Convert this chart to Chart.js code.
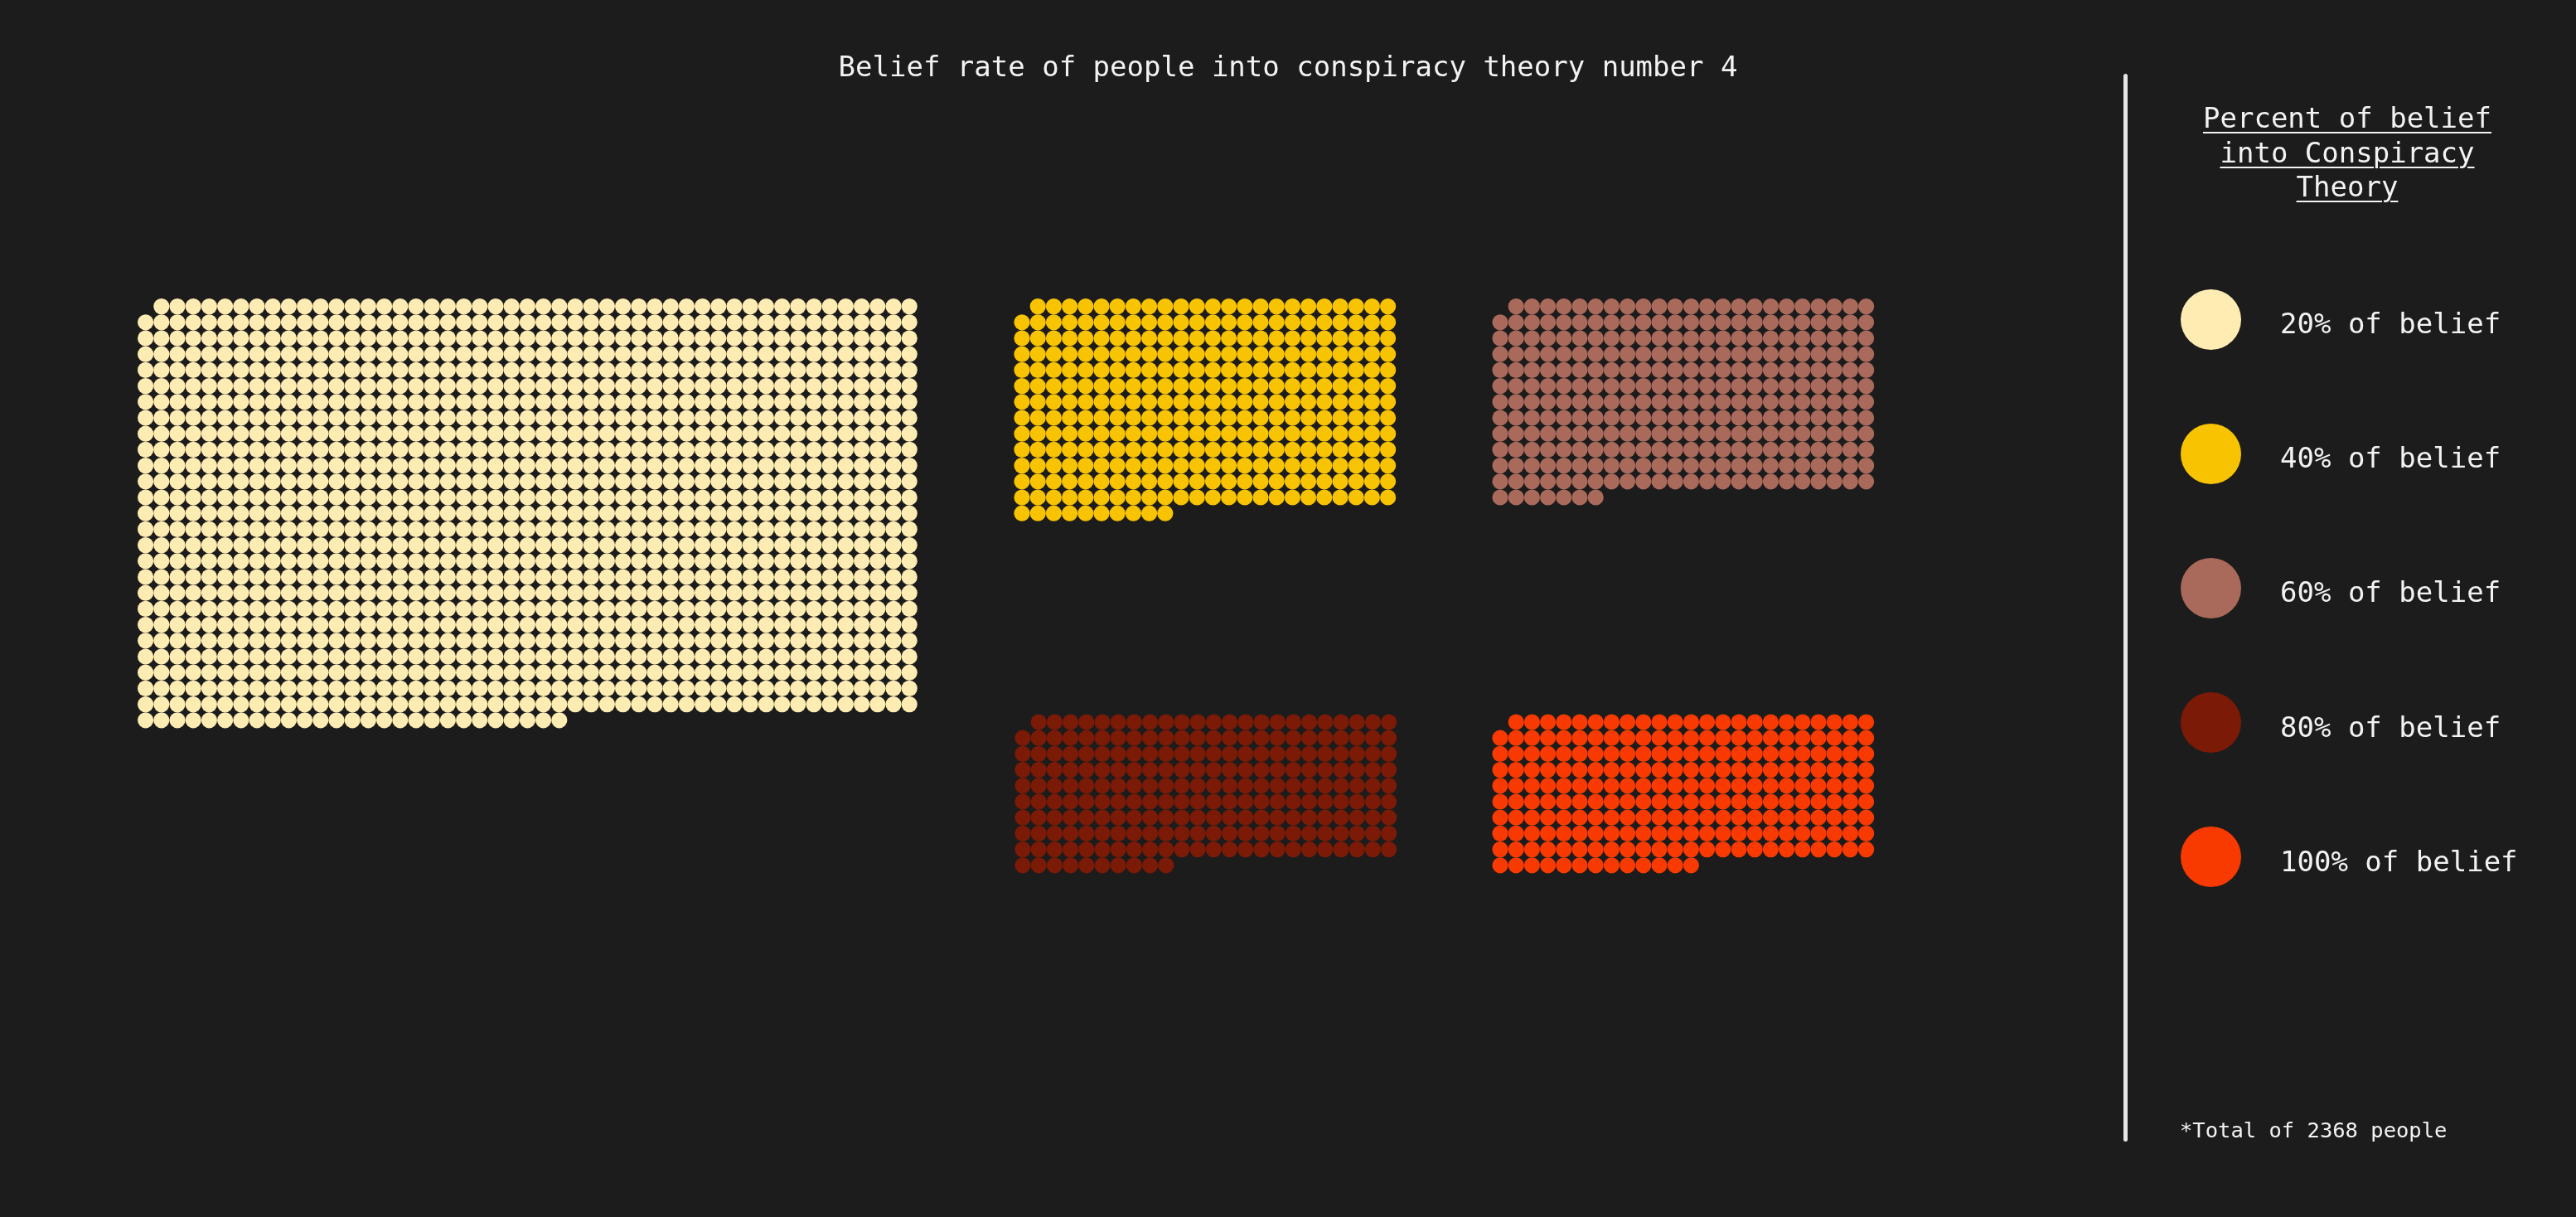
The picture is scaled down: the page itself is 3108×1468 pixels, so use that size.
<!DOCTYPE html>
<html>
<head>
<meta charset="utf-8">
<title>Belief rate of people into conspiracy theory number 4</title>
<script src="https://cdn.jsdelivr.net/npm/chart.js@4.4.1/dist/chart.umd.min.js"></script>
<style>
  html, body { margin: 0; padding: 0; background: #1c1c1c; }
  body {
    width: 3108px; height: 1468px; position: relative; overflow: hidden;
    font-family: 'DejaVu Sans Mono', monospace; color: #f2f2f2;
  }
  #chartBox { position: absolute; left: 0; top: 0; width: 3108px; height: 1468px; }
  #title {
    position: absolute; left: 0; top: 60px; width: 3108px;
    text-align: center; font-size: 34px; line-height: 40px;
  }
  #divider {
    position: absolute; left: 2562px; top: 89px; width: 5px; height: 1288px;
    background: #e6e6e6; border-radius: 3px;
  }
  #legendTitle {
    position: absolute; left: 2632px; top: 122px; width: 400px;
    text-align: center; font-size: 34px; line-height: 41.5px;
    text-decoration: underline; text-underline-offset: 5px; text-decoration-thickness: 2px;
  }
  .swatch { position: absolute; width: 73px; height: 73px; border-radius: 50%; }
  .legendLabel { position: absolute; left: 2751px; font-size: 34px; line-height: 40px; white-space: nowrap; }
  #footnote { position: absolute; left: 2630px; top: 1348px; font-size: 25.5px; line-height: 30px; }
</style>
</head>
<body>
<div id="chartBox"><canvas id="dotChart"></canvas></div>
<div id="title">Belief rate of people into conspiracy theory number 4</div>
<div id="divider"></div>
<div id="legendTitle">Percent of belief<br>into Conspiracy<br>Theory</div>
<div id="legend"></div>
<div id="footnote">*Total of 2368 people</div>

<script>
/* ===== Data ===== */
const categories = ['20% of belief', '40% of belief', '60% of belief', '80% of belief', '100% of belief'];
const peopleCounts = [1300, 321, 294, 225, 228];
const dotColors = ['#ffecb3', '#f8c300', '#a96a5b', '#7b1a06', '#f93a00'];

/* ===== Layout (not data) ===== */
const PITCH = 19.2;
const DOT_RADIUS = 9.6;
const blockColumns = [49, 24, 24, 24, 24];
const blockOrigins = [[175.6, 369.6], [1233, 369.6], [1810, 369.6], [1234, 871], [1810, 871]];
const legendTop = 385;
const legendStep = 162.2;

// one dot per person, slot 0 of each block is left empty
function waffle(count, cols, origin) {
  const pts = [];
  for (let i = 1; i <= count; i++) {
    pts.push({
      x: origin[0] + (i % cols) * PITCH,
      y: origin[1] + Math.floor(i / cols) * PITCH
    });
  }
  return pts;
}

function buildLegend() {
  const box = document.getElementById('legend');
  let html = '';
  categories.forEach((label, i) => {
    const cy = legendTop + i * legendStep;
    html += `<div class="swatch" style="left:${2667 - 36.5}px;top:${cy - 36.5}px;background:${dotColors[i]}"></div>`;
    html += `<div class="legendLabel" style="top:${cy - 15}px">${label}</div>`;
  });
  box.innerHTML = html;
}

function renderChart() {
  const ctx = document.getElementById('dotChart').getContext('2d');
  new Chart(ctx, {
    type: 'scatter',
    data: {
      datasets: categories.map((label, i) => ({
        label: label,
        data: waffle(peopleCounts[i], blockColumns[i], blockOrigins[i]),
        backgroundColor: dotColors[i],
        borderColor: dotColors[i],
        pointRadius: DOT_RADIUS,
        pointHoverRadius: DOT_RADIUS,
        pointBorderWidth: 0
      }))
    },
    options: {
      responsive: true,
      maintainAspectRatio: false,
      animation: false,
      layout: { padding: 0, autoPadding: false },
      plugins: {
        legend: { display: false },
        tooltip: {
          callbacks: { label: c => ' ' + c.dataset.label + ': ' + peopleCounts[c.datasetIndex] + ' people' }
        }
      },
      scales: {
        x: { type: 'linear', min: 0, max: 3108, display: false },
        y: { type: 'linear', min: 0, max: 1468, reverse: true, display: false }
      }
    }
  });
}

buildLegend();
renderChart();
</script>
</body>
</html>
